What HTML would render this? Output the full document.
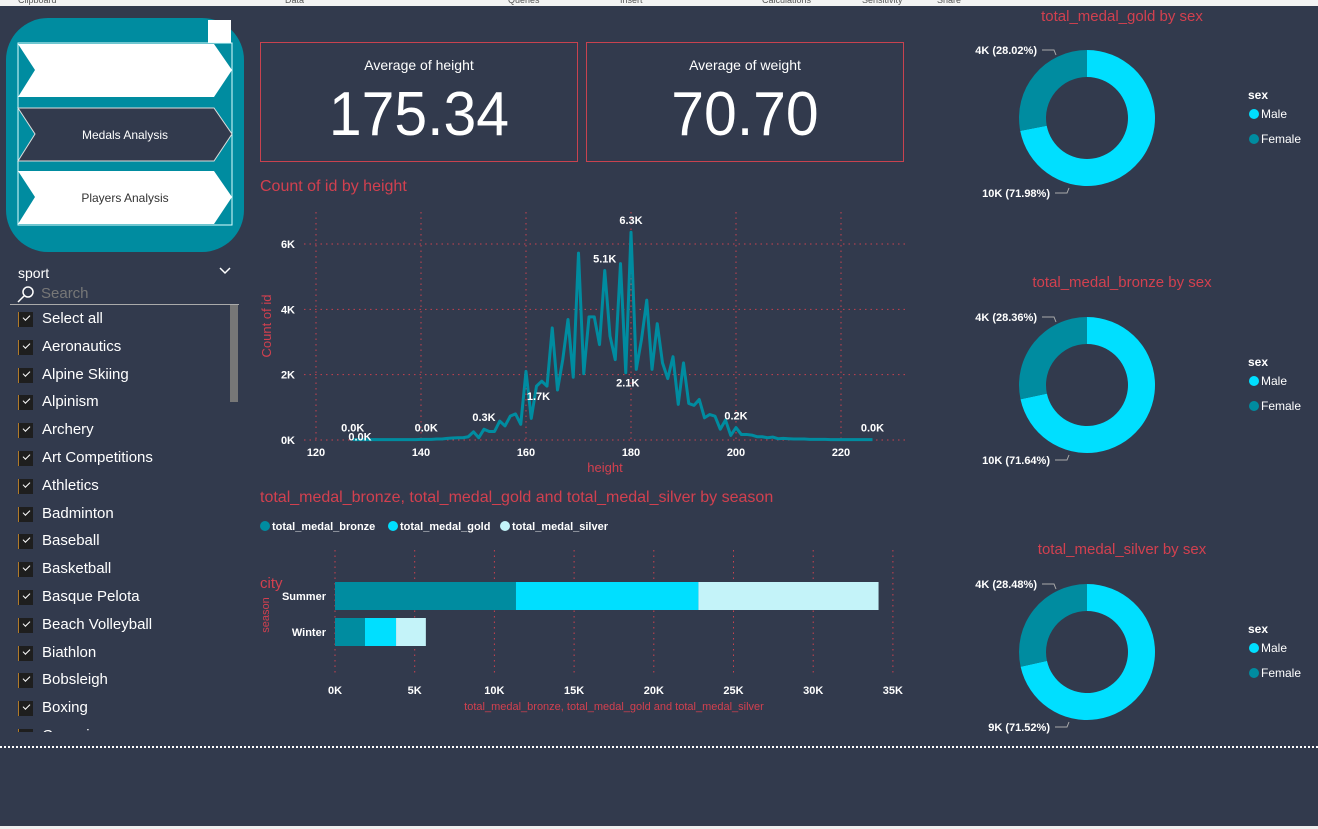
<!DOCTYPE html>
<html><head><meta charset="utf-8">
<style>
*{margin:0;padding:0;box-sizing:border-box}
body{width:1318px;height:829px;overflow:hidden;background:#323a4d;font-family:"Liberation Sans",sans-serif;position:relative}
.abs{position:absolute}
.topbar{left:0;top:0;width:1318px;height:6px;background:#f3f3f3;overflow:hidden;font-size:9px;color:#555}
.topbar span{position:absolute;top:-5px}
.botbar{left:0;top:826px;width:1318px;height:3px;background:#eee}
.kpi{border:1px solid #c8424f;color:#fff;text-align:center}
.kpi .t{font-size:14px;margin-top:14px}
.kpi .v{font-size:62px;line-height:66px;margin-top:9px;transform:scaleX(0.95)}
.title{color:#d2404f;font-size:16px;white-space:nowrap}
.item{position:absolute;left:18px;height:20px;color:#fff;font-size:15px;white-space:nowrap}
.cb{position:absolute;left:0;top:2px;width:15px;height:15px;background:#1e1e1e;border-left:1px solid #b07a2a}
.cb:after{content:"";position:absolute;left:4px;top:3px;width:6px;height:3px;border-left:1.5px solid #fff;border-bottom:1.5px solid #fff;transform:rotate(-45deg)}
.item .lbl{position:absolute;left:24px;top:0}
svg text{font-family:"Liberation Sans",sans-serif}
</style></head><body>
<div class="abs topbar">
<span style="left:18px">Clipboard</span><span style="left:285px">Data</span><span style="left:508px">Queries</span><span style="left:620px">Insert</span><span style="left:762px">Calculations</span><span style="left:862px">Sensitivity</span><span style="left:937px">Share</span>
</div>

<div class="abs" style="left:6px;top:18px;width:238px;height:234px;background:#008ca0;border-radius:42px"></div>
<div class="abs" style="left:208px;top:20px;width:23px;height:23px;background:#fff"></div>
<svg class="abs" style="left:0;top:0" width="250" height="260">
<rect x="18" y="43" width="214" height="182" fill="none" stroke="#dff" stroke-width="1"/>
<g><polygon points="18,44 214,44 232,70 214,97 18,97 35,70" fill="#fff"/></g>
<g><polygon points="18,108 214,108 232,134 214,161 18,161 35,134" fill="#323a4d" stroke="#ddd"/>
<text x="125" y="139" fill="#fff" font-size="12" text-anchor="middle">Medals Analysis</text></g>
<g><polygon points="18,171 214,171 232,197 214,224 18,224 35,197" fill="#fff"/>
<text x="125" y="202" fill="#333" font-size="12" text-anchor="middle">Players Analysis</text></g>
</svg>

<div class="abs" style="left:18px;top:265px;color:#fff;font-size:14px">sport</div>
<svg class="abs" style="left:218px;top:266px" width="14" height="10"><polyline points="2,2 7,7 12,2" fill="none" stroke="#fff" stroke-width="1.5"/></svg>
<svg class="abs" style="left:16px;top:285px" width="20" height="18"><circle cx="12" cy="7" r="5" fill="none" stroke="#fff" stroke-width="1.5"/><line x1="8" y1="11" x2="2" y2="17" stroke="#fff" stroke-width="1.5"/></svg>
<div class="abs" style="left:41px;top:285px;color:#777;font-size:15px">Search</div>
<div class="abs" style="left:10px;top:304px;width:229px;height:1px;background:#aaa"></div>
<div class="abs" style="left:230px;top:305px;width:8px;height:97px;background:#777"></div>
<div class="abs" id="slicer" style="left:0;top:305px;width:230px;height:427px;overflow:hidden"></div>

<div class="abs kpi" style="left:260px;top:42px;width:318px;height:120px"><div class="t">Average of height</div><div class="v">175.34</div></div>
<div class="abs kpi" style="left:586px;top:42px;width:318px;height:120px"><div class="t">Average of weight</div><div class="v">70.70</div></div>

<div class="abs title" style="left:260px;top:178px">Count of id by height</div>
<svg class="abs" id="line" style="left:0;top:0" width="920" height="480"></svg>

<div class="abs title" style="left:260px;top:489px">total_medal_bronze, total_medal_gold and total_medal_silver by season</div>
<svg class="abs" id="bar" style="left:0;top:0" width="920" height="720"></svg>

<svg class="abs" id="donuts" style="left:0;top:0" width="1318" height="740"></svg>

<div class="abs" style="left:0;top:746px;width:1318px;border-top:2px dotted #fff"></div>
<div class="abs botbar"></div>

<script>
const NS="http://www.w3.org/2000/svg";
function mk(p,t,a){const e=document.createElementNS(NS,t);for(const k in a)e.setAttribute(k,a[k]);p.appendChild(e);return e;}

const sports=["Select all","Aeronautics","Alpine Skiing","Alpinism","Archery","Art Competitions","Athletics","Badminton","Baseball","Basketball","Basque Pelota","Beach Volleyball","Biathlon","Bobsleigh","Boxing","Canoeing"];
const sl=document.getElementById('slicer');
sports.forEach((s,i)=>{const d=document.createElement('div');d.className='item';d.style.top=(5+i*27.8)+'px';


d.innerHTML='<div class="cb"></div><div class="lbl">'+s+'</div>';sl.appendChild(d);});

const heights=[];for(let h=127;h<=226;h++)heights.push(h);
const counts=[0.01,0.01,0.01,0.01,0.01,0.01,0.01,0.01,0.01,0.01,0.01,0.01,0.01,0.02,0.02,0.02,0.03,0.03,0.05,0.06,0.07,0.07,0.1,0.25,0.07,0.33,0.26,0.26,0.58,0.43,0.73,0.8,0.48,2.1,0.66,1.65,1.8,1.65,3.43,1.53,2.46,3.69,1.92,5.72,2.03,3.77,3.77,2.92,5.19,3.18,2.46,5.4,2.06,6.36,2.16,3.08,4.28,2.16,3.56,2.36,1.88,2.55,1.09,2.36,1.12,1.06,1.24,0.68,0.78,0.73,0.33,0.61,0.14,0.38,0.17,0.17,0.15,0.1,0.1,0.07,0.09,0.04,0.05,0.04,0.03,0.03,0.03,0.02,0.02,0.02,0.02,0.01,0.01,0.01,0.01,0.01,0.01,0.01,0.01,0.01];
const xTicks=[120,140,160,180,200,220];
const yTicks=[0,2,4,6];
const labelHeights=[127,128,141,152,162,175,179,180,200,226];
const labelText=["0.0K","0.0K","0.0K","0.3K","1.7K","5.1K","2.1K","6.3K","0.2K","0.0K"];
const labelBelow=[0,1,0,0,1,0,1,0,0,0];
const lx=h=>316+(h-120)*5.25, ly=v=>440-v*32.67;
const L=document.getElementById('line');
yTicks.forEach(t=>{const g=mk(L,'line',{x1:304,x2:905,y1:ly(t),y2:ly(t),stroke:'#c8424f','stroke-dasharray':'1.5 4','stroke-width':1});


const tx=mk(L,'text',{x:295,y:ly(t)+4,fill:'#fff','font-size':11,'font-weight':'bold','text-anchor':'end'});tx.textContent=t+'K';

});
xTicks.forEach(t=>{const g=mk(L,'line',{x1:lx(t),x2:lx(t),y1:212,y2:440,stroke:'#c8424f','stroke-dasharray':'1.5 4','stroke-width':1});


const tx=mk(L,'text',{x:lx(t),y:456,fill:'#fff','font-size':11,'font-weight':'bold','text-anchor':'middle'});tx.textContent=t;

});
const pth=mk(L,'polyline',{points:heights.map((h,i)=>lx(h)+','+ly(counts[i])).join(' '),fill:'none',stroke:'#008ca0','stroke-width':3,'stroke-linejoin':'round'});


labelHeights.forEach((h,i)=>{const v=counts[heights.indexOf(h)];
let y=labelBelow[i]?ly(v)+14:ly(v)-8; if(labelBelow[i]&&v<0.1)y=ly(v)+1;
const t=mk(L,'text',{x:lx(h)+(labelBelow[i]?2:0),y:y,fill:'#fff','font-size':11,'font-weight':'bold','text-anchor':'middle'});t.textContent=labelText[i];

});
let t1=mk(L,'text',{x:605,y:472,fill:'#d2404f','font-size':13,'text-anchor':'middle'});t1.textContent='height';


t1=mk(L,'text',{x:271,y:326,fill:'#d2404f','font-size':13,'text-anchor':'middle',transform:'rotate(-90 271 326)'});t1.textContent='Count of id';



const seasons=["Summer","Winter"];
const bronze=[11.35,1.88];
const gold=[11.45,1.95];
const silver=[11.3,1.87];
const barTicks=[0,5,10,15,20,25,30,35];
const series=[{n:'total_medal_bronze',v:bronze,c:'#008ca0'},{n:'total_medal_gold',v:gold,c:'#00dfff'},{n:'total_medal_silver',v:silver,c:'#c4f3f9'}];
const bx=v=>335+v*15.94;
const B=document.getElementById('bar');
barTicks.forEach(t=>{const g=mk(B,'line',{x1:bx(t),x2:bx(t),y1:550,y2:675,stroke:'#c8424f','stroke-dasharray':'1.5 4'});


const tx=mk(B,'text',{x:bx(t),y:694,fill:'#fff','font-size':11,'font-weight':'bold','text-anchor':'middle'});tx.textContent=t+'K';

});
seasons.forEach((s,i)=>{const y=582+i*36;let acc=0;
series.forEach(se=>{const r=mk(B,'rect',{x:bx(acc),y:y,width:bx(acc+se.v[i])-bx(acc),height:28,fill:se.c});acc+=se.v[i];

});
const tx=mk(B,'text',{x:326,y:y+18,fill:'#fff','font-size':11,'font-weight':'bold','text-anchor':'end'});tx.textContent=s;

});
let lgx=[260,388,500];
series.forEach((se,i)=>{const c=mk(B,'circle',{cx:lgx[i]+5,cy:526,r:5,fill:se.c});


const tx=mk(B,'text',{x:lgx[i]+12,y:530,fill:'#fff','font-size':11,'font-weight':'bold'});tx.textContent=se.n;

});
t1=mk(B,'text',{x:260,y:588,fill:'#d2404f','font-size':15});t1.textContent='city';


t1=mk(B,'text',{x:269,y:615,fill:'#d2404f','font-size':11,'text-anchor':'middle',transform:'rotate(-90 269 615)'});t1.textContent='season';


t1=mk(B,'text',{x:614,y:710,fill:'#d2404f','font-size':11,'text-anchor':'middle'});t1.textContent='total_medal_bronze, total_medal_gold and total_medal_silver';



const donutTitles=["total_medal_gold by sex","total_medal_bronze by sex","total_medal_silver by sex"];
const femalePct=[28.02,28.36,28.48];
const femaleLbl=["4K","4K","4K"];
const maleLbl=["10K","10K","9K"];
const D=document.getElementById('donuts');
const cys=[118,385,652], titleY=[21,287,554];
donutTitles.forEach((tt,i)=>{const cx=1087,cy=cys[i],R=68,r=41;
const t=mk(D,'text',{x:1122,y:titleY[i],fill:'#d2404f','font-size':15,'text-anchor':'middle'});t.textContent=tt;


const pct=[100-femalePct[i],femalePct[i]];const cols=['#00dfff','#008ca0'];let a0=0;
pct.forEach((p,j)=>{const a1=a0+p/100*2*Math.PI;
const P=(a,rr)=>[cx+rr*Math.sin(a),cy-rr*Math.cos(a)];
const [x0,y0]=P(a0,R),[x1,y1]=P(a1,R),[x2,y2]=P(a1,r),[x3,y3]=P(a0,r);const lg=(a1-a0)>Math.PI?1:0;
const s=mk(D,'path',{d:`M${x0},${y0}A${R},${R} 0 ${lg} 1 ${x1},${y1}L${x2},${y2}A${r},${r} 0 ${lg} 0 ${x3},${y3}Z`,fill:cols[j]});

a0=a1;});
let tx=mk(D,'text',{x:1037,y:cy-64,fill:'#fff','font-size':11,'font-weight':'bold','text-anchor':'end'});tx.textContent=femaleLbl[i]+' ('+femalePct[i].toFixed(2)+'%)';


let ln=mk(D,'polyline',{points:`1042,${cy-68} 1054,${cy-68} 1056,${cy-63}`,fill:'none',stroke:'#aaa'});


tx=mk(D,'text',{x:1050,y:cy+79,fill:'#fff','font-size':11,'font-weight':'bold','text-anchor':'end'});tx.textContent=maleLbl[i]+' ('+(100-femalePct[i]).toFixed(2)+'%)';


ln=mk(D,'polyline',{points:`1055,${cy+75} 1067,${cy+75} 1069,${cy+70}`,fill:'none',stroke:'#aaa'});


tx=mk(D,'text',{x:1248,y:cy-19,fill:'#fff','font-size':12,'font-weight':'bold'});tx.textContent='sex';


[['Male','#00dfff',-4],['Female','#008ca0',21]].forEach(m=>{const c=mk(D,'circle',{cx:1254,cy:cy+m[2],r:5,fill:m[1]});


const l=mk(D,'text',{x:1261,y:cy+m[2]+4,fill:'#fff','font-size':12});l.textContent=m[0];

});
});
</script>
</body></html>
